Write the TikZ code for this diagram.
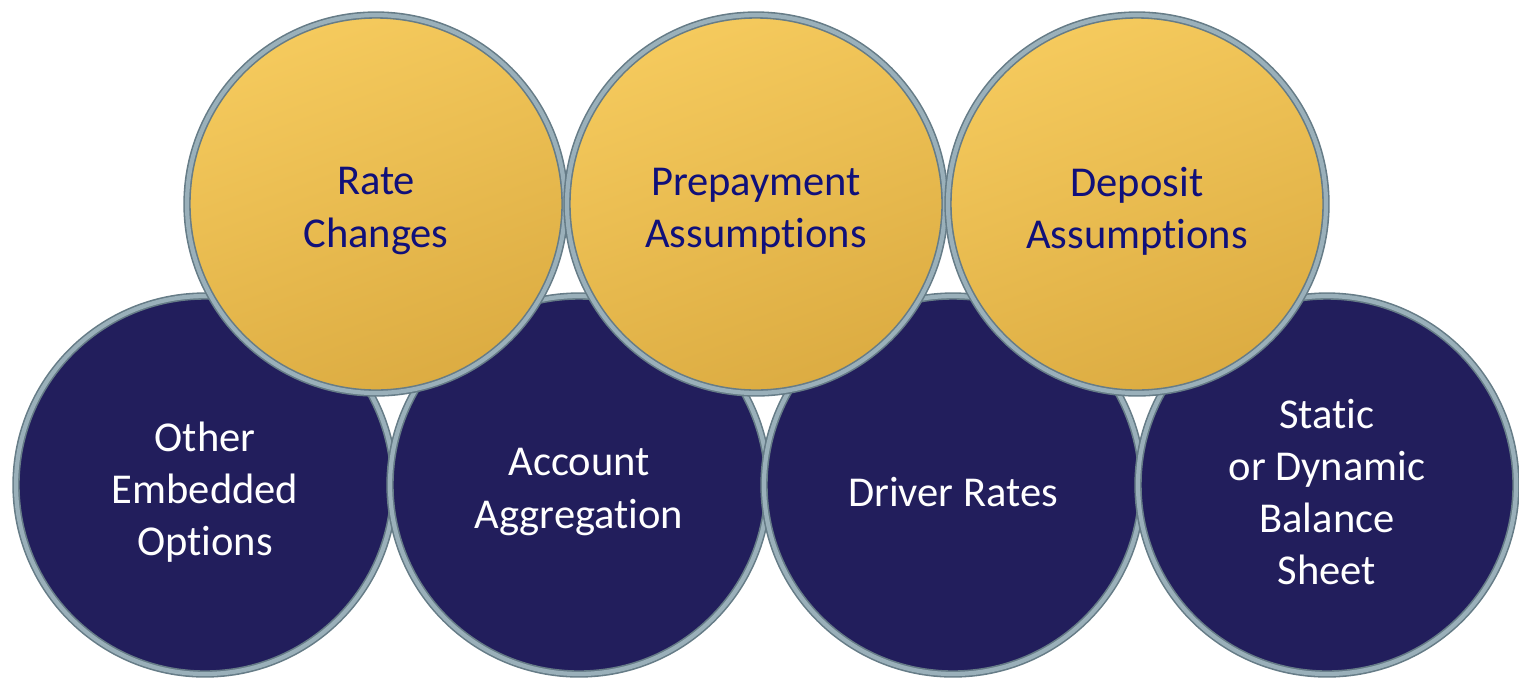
\documentclass[tikz,border=0pt]{standalone}
\usepackage{fontspec}
\setmainfont[Ligatures=NoCommon]{Carlito}
\usetikzlibrary{positioning}
\definecolor{navy}{HTML}{221E5C}
\definecolor{goldlight}{HTML}{F5CA5D}
\definecolor{golddark}{HTML}{DCAC42}
\definecolor{rim}{HTML}{9AB0BA}
\definecolor{rimdark}{HTML}{667C87}
\definecolor{inktext}{HTML}{10107A}

\begin{document}
\begin{tikzpicture}[
    ball/.style={circle, minimum size=3.78cm, inner sep=0pt, draw=rimdark,
      double=rim, double distance=1.2pt, line width=0.45pt},
    navyball/.style={ball, fill=navy},
    goldball/.style={ball, top color=goldlight, bottom color=golddark,
      shading angle=20},
    balltext/.style={align=center, font=\fontsize{12.1}{14.8}\selectfont},
    navytext/.style={balltext, text=white},
    goldtext/.style={balltext, text=inktext}]
    \useasboundingbox (0,0) rectangle (15.19,6.83);
    % bottom row
    \node[navyball] (other) at (2.05,1.98) {};
    \node[navyball] (account) at (5.79,1.98) {};
    \node[navyball] (driver) at (9.53,1.98) {};
    \node[navyball] (balance) at (13.27,1.98) {};
    \node[navytext] at ([yshift=-0.07cm]other.center) {Other\\Embedded\\Options};
    \node[navytext] at ([yshift=-0.07cm]account.center) {Account\\Aggregation};
    \node[navytext] at ([yshift=-0.07cm]driver.center) {Driver Rates};
    \node[navytext] at ([yshift=-0.07cm]balance.center) {Static\\or Dynamic\\Balance\\Sheet};
    % top row
    \node[goldball] (rate) at (3.76,4.79) {};
    \node[goldball] (prepay) at (7.56,4.79) {};
    \node[goldball] (deposit) at (11.37,4.79) {};
    \node[goldtext] at ([yshift=-0.07cm]rate.center) {Rate\\Changes};
    \node[goldtext] at ([yshift=-0.07cm]prepay.center) {Prepayment\\Assumptions};
    \node[goldtext] at ([yshift=-0.07cm]deposit.center) {Deposit\\Assumptions};
\end{tikzpicture}
\end{document}
